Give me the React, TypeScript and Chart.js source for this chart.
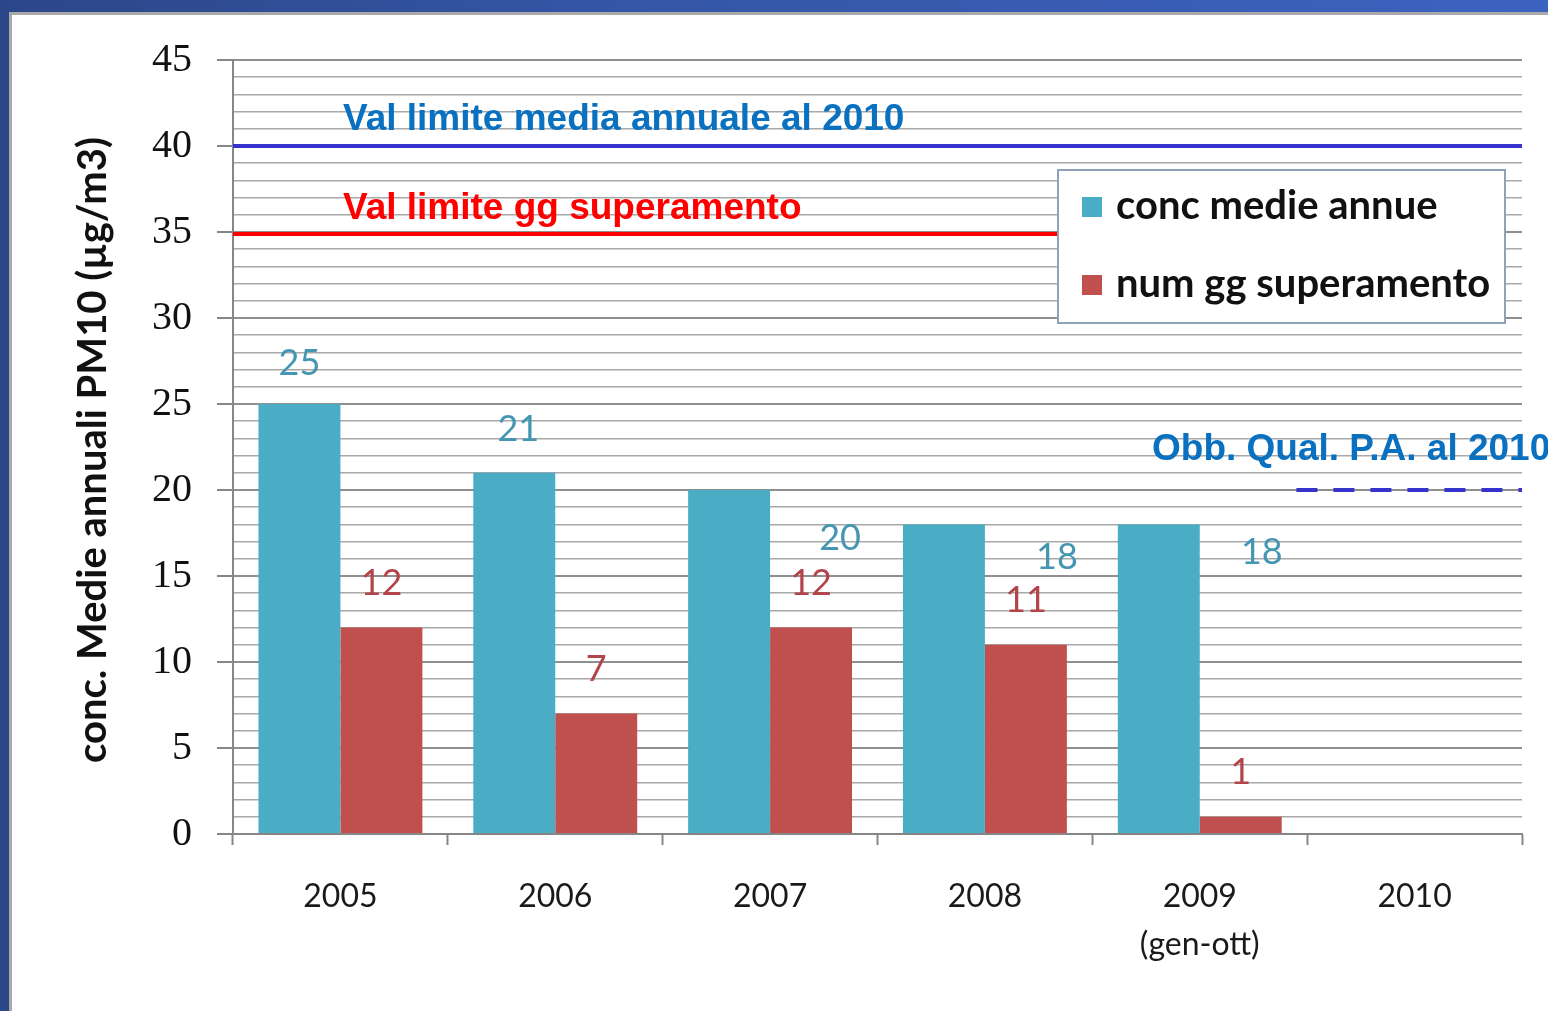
import React, { useEffect, useRef } from "react";
import { Chart, registerables } from "chart.js";

Chart.register(...registerables);

const categories: (string | string[])[] = ["2005", "2006", "2007", "2008", ["2009", "(gen-ott)"], "2010"];
const concMedieAnnue: (number | null)[] = [25, 21, 20, 18, 18, null];
const numGgSuperamento: (number | null)[] = [12, 7, 12, 11, 1, null];
const yTickLabels = [0, 5, 10, 15, 20, 25, 30, 35, 40, 45];
const valLimiteMedia = 40;
const valLimiteGg = 35;
const obbQualPA = 20;
const seriesNames = ["conc medie annue", "num gg superamento"];
const yTitle = "conc. Medie annuali PM10 (µg/m3)";
const refTexts = ["Val limite media annuale al 2010", "Val limite gg superamento", "Obb. Qual. P.A. al 2010"];

// label shifts (pixels) for the blue series value labels, as placed in the original
const blueLabelShift = [
  [0, -41],
  [4, -43],
  [111, 48],
  [113, 33],
  [103, 28],
];

const BLUE = "#4bacc6";
const RED = "#c0504d";
const W = 1548;
const H = 1011;

const overlayPlugin = {
  id: "overlay",
  afterDatasetsDraw(chart: any) {
    const { ctx, chartArea, scales } = chart;
    const ys = scales.y;
    const xs = scales.x;
    const catW = (chartArea.right - chartArea.left) / categories.length;

    // value labels
    ctx.save();
    ctx.font = "36px Lato";
    ctx.textAlign = "center";
    ctx.textBaseline = "middle";
    const m0 = chart.getDatasetMeta(0);
    const m1 = chart.getDatasetMeta(1);
    concMedieAnnue.forEach((v, i) => {
      if (v == null) return;
      const el = m0.data[i];
      const s = blueLabelShift[i] || [0, -42];
      ctx.fillStyle = "#4596b2";
      ctx.fillText(String(v), el.x + s[0], el.y + s[1]);
    });
    numGgSuperamento.forEach((v, i) => {
      if (v == null) return;
      const el = m1.data[i];
      ctx.fillStyle = "#b3444a";
      ctx.fillText(String(v), el.x, el.y - 44);
    });
    ctx.restore();

    // reference lines
    ctx.save();
    ctx.lineWidth = 4;
    ctx.strokeStyle = "#3434cc";
    const y40 = ys.getPixelForValue(valLimiteMedia);
    ctx.beginPath();
    ctx.moveTo(chartArea.left, y40);
    ctx.lineTo(chartArea.right, y40);
    ctx.stroke();

    const legendLeft = 1058;
    const y35 = ys.getPixelForValue(valLimiteGg) + 2;
    ctx.strokeStyle = "#ff0000";
    ctx.beginPath();
    ctx.moveTo(chartArea.left, y35);
    ctx.lineTo(legendLeft, y35);
    ctx.stroke();

    const y20 = ys.getPixelForValue(obbQualPA);
    ctx.strokeStyle = "#3434cc";
    ctx.setLineDash([21, 16]);
    ctx.beginPath();
    ctx.moveTo(xs.getPixelForValue(5) - 0.55 * catW, y20);
    ctx.lineTo(chartArea.right, y20);
    ctx.stroke();
    ctx.setLineDash([]);
    ctx.restore();

    // reference texts
    ctx.save();
    ctx.font = "bold 37px 'Liberation Sans'";
    ctx.textAlign = "left";
    ctx.textBaseline = "middle";
    ctx.fillStyle = "#0a70c0";
    ctx.fillText(refTexts[0], chartArea.left + 110, y40 - 26);
    ctx.fillStyle = "#ff0000";
    ctx.fillText(refTexts[1], chartArea.left + 110, y35 - 25);
    ctx.fillStyle = "#0a70c0";
    ctx.fillText(refTexts[2], 1152, y20 - 40);
    ctx.restore();

    // legend
    ctx.save();
    ctx.fillStyle = "#ffffff";
    ctx.fillRect(1058, 170, 447, 153);
    ctx.lineWidth = 2;
    ctx.strokeStyle = "#8fa2b8";
    ctx.strokeRect(1058, 170, 447, 153);
    ctx.fillStyle = BLUE;
    ctx.fillRect(1082, 197, 20, 20);
    ctx.fillStyle = RED;
    ctx.fillRect(1082, 275, 20, 20);
    ctx.fillStyle = "#111111";
    ctx.font = "bold 40px Lato";
    ctx.textAlign = "left";
    ctx.textBaseline = "middle";
    ctx.fillText(seriesNames[0], 1116, 206);
    ctx.fillText(seriesNames[1], 1116, 284);
    ctx.restore();

    // y axis title
    ctx.save();
    ctx.translate(93, 450);
    ctx.rotate(-Math.PI / 2);
    ctx.font = "bold 40px Lato";
    ctx.fillStyle = "#111111";
    ctx.textAlign = "center";
    ctx.textBaseline = "middle";
    ctx.fillText(yTitle, 0, 0);
    ctx.restore();
  },
};

export default function App() {
  const ref = useRef<HTMLCanvasElement>(null);
  useEffect(() => {
    if (!ref.current) return;
    const chart = new Chart(ref.current, {
      type: "bar",
      data: {
        labels: categories,
        datasets: [
          { label: seriesNames[0], data: concMedieAnnue, backgroundColor: BLUE, borderWidth: 0 },
          { label: seriesNames[1], data: numGgSuperamento, backgroundColor: RED, borderWidth: 0 },
        ],
      },
      options: {
        animation: false,
        responsive: false,
        maintainAspectRatio: false,
        devicePixelRatio: 1,
        datasets: { bar: { categoryPercentage: 0.763, barPercentage: 1 } },
        layout: { padding: { left: 0, top: 60, right: 26, bottom: 0 } },
        plugins: { legend: { display: false }, tooltip: { enabled: false } },
        scales: {
          x: {
            offset: true,
            grid: {
              offset: true,
              drawOnChartArea: false,
              drawTicks: true,
              tickLength: 11,
              tickWidth: 2,
              tickColor: "#868686",
            },
            border: { display: true, color: "#868686", width: 2 },
            ticks: {
              font: { family: "Lato", size: 32, lineHeight: 1.5 },
              color: "#1a1a1a",
              padding: 28,
              maxRotation: 0,
              autoSkip: false,
            },
            afterFit: (s: any) => {
              s.height = H - 834;
            },
          },
          y: {
            min: 0,
            max: 45,
            grid: {
              color: (c: any) => (c.tick && c.tick.value % 5 === 0 ? "#8f8f8f" : "#a8a8a8"),
              lineWidth: (c: any) => (c.tick && c.tick.value % 5 === 0 ? 2 : 1.6),
              drawTicks: true,
              tickLength: 16,
              tickWidth: 2,
              tickColor: (c: any) => (c.tick && c.tick.value % 5 === 0 ? "#868686" : "rgba(0,0,0,0)"),
            },
            border: { display: true, color: "#868686", width: 2 },
            ticks: {
              stepSize: 1,
              autoSkip: false,
              font: { family: "'Liberation Serif'", size: 40 },
              color: "#111111",
              padding: 25,
              callback: (v: any) => (yTickLabels.includes(Number(v)) ? String(v) : ""),
            },
            afterFit: (s: any) => {
              s.width = 233;
            },
          },
        },
      },
      plugins: [overlayPlugin],
    });
    return () => chart.destroy();
  }, []);

  return (
    <div
      style={{
        position: "fixed",
        left: 0,
        top: 0,
        width: W,
        height: H,
        overflow: "hidden",
        background: "linear-gradient(to right, #2c4789 0%, #3556a6 40%, #3c63c0 100%)",
      }}
    >
      <div
        style={{
          position: "absolute",
          left: 9,
          top: 12,
          width: W - 9,
          height: H - 12,
          background: "#ffffff",
          borderLeft: "3px solid #a9a9a9",
          borderTop: "3px solid #a9a9a9",
          boxSizing: "border-box",
        }}
      />
      <canvas ref={ref} width={W} height={H} style={{ position: "absolute", left: 0, top: 0, width: W, height: H }} />
    </div>
  );
}
